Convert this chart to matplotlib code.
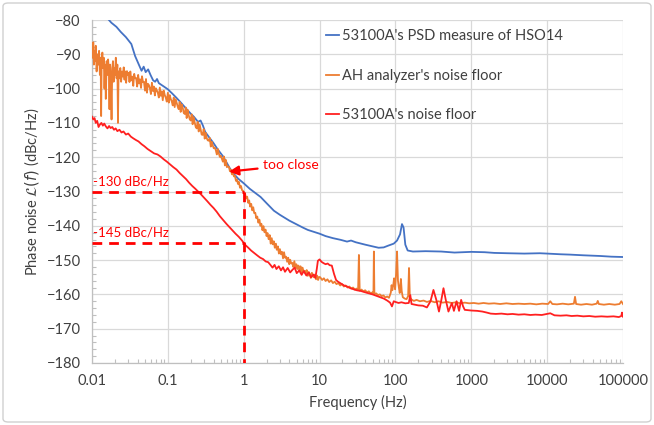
import matplotlib
matplotlib.use("Agg")
import matplotlib.pyplot as plt
from matplotlib.patches import FancyBboxPatch
from matplotlib.ticker import FixedLocator, FuncFormatter, NullFormatter

plt.rcParams['font.family'] = ['Lato', 'DejaVu Sans']

# ---------------- data ----------------
blue_f = [0.0150, 0.0180, 0.0210, 0.0240, 0.0280, 0.0330, 0.0370, 0.0420, 0.0450, 0.0480,
          0.0510, 0.0550, 0.0590, 0.0640, 0.0680, 0.0720, 0.0760, 0.0820, 0.0900, 0.1000,
          0.1150, 0.1300, 0.1500, 0.1750, 0.2000, 0.2200, 0.2500, 0.2700, 0.2900, 0.3100,
          0.3500, 0.4000, 0.4500, 0.5400, 0.6000, 0.6700, 0.7500, 0.8500, 1.0000, 1.2000,
          1.6700, 2.0000, 2.5000, 3.0000, 4.0000, 5.0000, 6.0000, 7.0000, 8.5000, 10.000,
          12.000, 15.000, 19.000, 23.000, 26.000, 30.000, 40.000, 50.000, 60.000, 70.000,
          80.000, 95.000, 105.00, 115.00, 122.00, 128.00, 135.00, 145.00, 170.00, 250.00,
          400.00, 600.00, 1000.0, 1500.0, 2000.0, 3000.0, 5000.0, 8000.0, 10000., 15000.,
          20000., 30000., 50000., 70000., 100000.]
blue_db = [-78.8, -80.8, -82.0, -83.5, -85.0, -87.0, -90.5, -93.3, -94.8, -93.6,
           -95.2, -94.4, -96.0, -97.6, -98.0, -97.2, -98.4, -98.9, -99.5, -100.2,
           -101.5, -102.7, -104.2, -105.9, -107.3, -108.2, -109.7, -109.3, -110.8, -112.6,
           -114.2, -115.9, -117.6, -119.9, -121.7, -123.6, -125.0, -126.3, -127.6, -129.2,
           -131.6, -133.4, -135.6, -136.8, -138.5, -139.6, -140.5, -141.2, -141.8, -142.3,
           -143.0, -143.6, -144.1, -144.6, -144.3, -144.8, -145.5, -146.0, -146.4, -146.3,
           -145.8, -145.2, -144.3, -142.5, -139.5, -140.5, -145.5, -147.2, -147.5, -147.4,
           -147.5, -147.8, -147.6, -147.7, -147.9, -148.0, -148.1, -148.0, -148.1, -148.3,
           -148.4, -148.6, -148.8, -149.0, -149.1]

orange_f = [0.0100, 0.0102, 0.0104, 0.0106, 0.0108, 0.0110, 0.0112, 0.0115, 0.0118, 0.0121,
            0.0124, 0.0127, 0.0130, 0.0132, 0.0134, 0.0137, 0.0140, 0.0143, 0.0146, 0.0149,
            0.0152, 0.0156, 0.0160, 0.0163, 0.0167, 0.0170, 0.0173, 0.0177, 0.0181, 0.0185,
            0.0189, 0.0193, 0.0197, 0.0201, 0.0206, 0.0211, 0.0216, 0.0220, 0.0224, 0.0230,
            0.0236, 0.0242, 0.0248,
            0.0255, 0.0262, 0.0268, 0.0275, 0.0282, 0.0289, 0.0296, 0.0304, 0.0312, 0.0320,
            0.0330, 0.0340, 0.0350, 0.0360, 0.0370, 0.0382, 0.0394, 0.0406, 0.0418, 0.0430,
            0.0443, 0.0456, 0.0470, 0.0484, 0.0500, 0.0515, 0.0530, 0.0546, 0.0563, 0.0580,
            0.0598, 0.0616, 0.0635, 0.0654, 0.0674, 0.0694, 0.0715, 0.0737, 0.0760, 0.0783,
            0.0807, 0.0832, 0.0857, 0.0883, 0.0910, 0.0938, 0.0967, 0.1000, 0.1030, 0.1060,
            0.1090, 0.1125, 0.1160, 0.1195, 0.1230, 0.1270, 0.1310, 0.1350, 0.1390, 0.1430,
            0.1475, 0.1520, 0.1570, 0.1620, 0.1670, 0.1720, 0.1770, 0.1825, 0.1880, 0.1940,
            0.2000, 0.2060, 0.2120, 0.2190, 0.2260, 0.2330, 0.2400, 0.2470, 0.2550, 0.2630,
            0.2710, 0.2790, 0.2880, 0.2970,
            0.306, 0.316, 0.326, 0.336, 0.346, 0.357, 0.368, 0.379, 0.391, 0.403,
            0.416, 0.429, 0.442, 0.456, 0.470, 0.484, 0.500, 0.515, 0.531, 0.548,
            0.565, 0.582, 0.600, 0.619, 0.638, 0.658, 0.678, 0.699, 0.721, 0.743,
            0.766, 0.790, 0.815, 0.840, 0.866, 0.893, 0.921, 0.950, 0.980, 1.010,
            1.040, 1.075, 1.110, 1.145, 1.180, 1.215, 1.255, 1.295, 1.335, 1.375,
            1.420, 1.465, 1.510, 1.560, 1.610, 1.660, 1.710, 1.765, 1.820, 1.880,
            1.940, 2.000, 2.060, 2.130, 2.200, 2.270, 2.340, 2.410, 2.490, 2.570,
            2.650, 2.730, 2.820, 2.910, 3.000, 3.100, 3.200, 3.300, 3.400, 3.510,
            3.620, 3.740, 3.860, 3.980, 4.100, 4.230, 4.370, 4.500, 4.650, 4.800,
            4.950, 5.100, 5.270, 5.440, 5.610, 5.790, 5.970, 6.160, 6.360, 6.560,
            6.770, 6.990, 7.210, 7.440, 7.680, 7.920, 8.170, 8.430, 8.700, 8.980,
            9.270, 9.560, 9.870,
            10.2, 10.8, 11.4, 12.0, 12.7, 13.4, 14.2, 15.0, 15.8, 16.7,
            17.7, 18.7, 19.8, 20.9, 22.1, 23.4, 24.7, 26.1, 27.6, 29.2,
            30.8, 32.2, 33.0, 33.8, 35.7, 37.8, 39.9, 42.2, 44.6, 47.1,
            49.8, 51.3, 52.0, 52.8, 55.7, 58.9, 62.3, 65.8, 69.6, 73.6,
            77.8, 82.2, 86.9, 89.0, 91.0, 94.0, 96.0, 99.0, 102.0, 105.0,
            108.0, 111.0, 114.0, 118.0, 121.0, 125.0, 132.0, 140.0, 147.0, 151.0,
            155.0, 163.0, 175.0, 190.0, 210.0, 235.0, 260.0, 290.0, 330.0, 370.0,
            420.0, 480.0, 550.0, 630.0, 720.0, 820.0, 940.0, 1080.0, 1250.0, 1450.0,
            1700.0, 2000.0, 2400.0, 2900.0, 3500.0, 4200.0, 5000.0, 6000.0, 7200.0, 8600.0,
            10300.0, 11000.0, 11700.0, 13500.0, 16000.0, 19000.0, 22500.0, 23300.0, 24100.0, 28000.0,
            33000.0, 39000.0, 45000.0, 46500.0, 48000.0, 56000.0, 66000.0, 78000.0, 90000.0, 95000.0,
            98000.0, 100000.0]
orange_db = [-88.0, -91.0, -86.5, -93.0, -89.0, -92.0, -87.5, -95.0, -90.0, -93.0,
             -89.0, -96.0, -91.0, -108.0, -92.0, -89.5, -94.0, -91.0, -100.0, -93.0,
             -103.0, -92.0, -96.0, -91.5, -95.0, -106.0, -93.0, -97.0, -109.0, -94.0,
             -92.0, -98.0, -94.0, -96.0, -91.0, -97.0, -93.0, -110.0, -95.0, -97.0,
             -94.0, -98.0, -95.0,
             -96.5, -93.8, -97.4, -95.0, -98.3, -94.9, -96.0, -95.4, -98.1, -95.0,
             -97.6, -96.5, -99.2, -95.7, -97.0, -96.9, -99.4, -96.0, -98.5, -97.3,
             -99.8, -96.4, -98.1, -98.0, -100.6, -97.2, -101.2, -98.6, -99.0, -99.9,
             -101.6, -98.3, -100.7, -99.4, -102.0, -99.9, -100.5, -101.2, -102.6, -99.7,
             -102.1, -100.8, -103.4, -100.6, -101.9, -102.6, -103.8, -101.2, -104.1, -101.9,
             -103.0, -103.7, -104.9, -102.6, -105.4, -103.1, -104.2, -105.3, -106.0, -103.9,
             -106.8, -104.6, -105.6, -107.1, -107.4, -105.5, -108.6, -106.2, -107.7, -108.9,
             -109.3, -107.5, -110.4, -108.3, -109.9, -111.2, -111.6, -109.7, -112.5, -110.5,
             -111.9, -113.4, -113.5, -111.8,
             -114.6, -112.9, -114.5, -115.1, -115.2, -114.4, -116.9, -115.5, -116.6, -117.4,
             -117.2, -118.0, -119.2, -117.6, -118.9, -119.9, -119.6, -120.4, -121.3, -119.8,
             -122.4, -120.8, -122.9, -122.7, -122.8, -124.1, -123.6, -125.0, -124.6, -125.6,
             -125.4, -126.9, -126.5, -127.8, -127.2, -128.9, -128.4, -129.6, -129.8, -130.4,
             -130.6, -132.0, -131.5, -133.3, -132.6, -134.4, -133.6, -135.5, -134.6, -136.3,
             -136.2, -137.8, -137.3, -139.1, -138.2, -140.0, -139.4, -141.3, -140.1, -141.9,
             -141.1, -143.0, -142.1, -143.9, -142.7, -145.2, -143.6, -145.4, -144.5, -146.4,
             -145.2, -147.0, -146.0, -148.1, -146.8, -148.3, -147.6, -149.5, -147.7, -149.3,
             -149.0, -150.5, -149.3, -151.2, -149.9, -151.0, -150.8, -152.0, -150.3, -152.1,
             -151.2, -152.6, -151.6, -153.2, -151.8, -153.7, -152.2, -153.4, -153.1, -154.0,
             -152.9, -154.6, -153.5, -154.1, -155.2, -153.7, -154.8, -155.0, -154.2, -155.6,
             -154.5, -155.8, -154.9,
             -155.0, -155.8, -155.3, -156.1, -155.6, -156.4, -155.9, -156.7, -156.3, -157.0,
             -156.7, -157.4, -157.0, -157.7, -157.4, -158.0, -157.7, -158.3, -158.0, -158.6,
             -158.3, -158.8, -148.5, -158.9, -158.6, -159.1, -158.8, -159.4, -159.1, -159.7,
             -159.4, -159.8, -147.5, -159.9, -159.7, -160.2, -160.0, -160.5, -160.3, -160.9,
             -160.6, -161.0, -159.5, -157.3, -158.8, -157.0, -155.3, -158.5, -154.0, -147.5,
             -156.0, -158.0, -159.6, -155.5, -159.0, -160.8, -161.2, -161.4, -160.5, -152.3,
             -161.0, -161.5, -161.9, -161.6, -162.0, -161.8, -162.2, -161.9, -162.3, -162.0,
             -162.4, -162.2, -162.5, -162.3, -162.6, -162.4, -162.6, -162.5, -162.7, -162.5,
             -162.7, -162.6, -162.8, -162.6, -162.8, -162.7, -162.8, -162.7, -162.9, -162.7,
             -162.8, -162.0, -162.8, -162.9, -162.7, -162.9, -162.7, -160.7, -162.8, -163.0,
             -162.8, -163.0, -162.7, -161.9, -162.8, -163.0, -162.8, -163.0, -162.8, -162.0,
             -162.5, -162.8]

red_f = [0.0100, 0.0104, 0.0108, 0.0112, 0.0117, 0.0122, 0.0127, 0.0133, 0.0139, 0.0145,
         0.0152, 0.0160, 0.0168, 0.0176, 0.0185, 0.0195, 0.0205, 0.0216, 0.0230, 0.0245,
         0.0260, 0.0280, 0.0300, 0.0325, 0.0350, 0.0380, 0.0410, 0.0450, 0.0490, 0.0540,
         0.0600, 0.0660, 0.0730, 0.0800, 0.0880, 0.0970, 0.1070, 0.1180, 0.1300, 0.1430,
         0.1580, 0.1740, 0.1900, 0.2100, 0.2300, 0.2500, 0.2750, 0.3000, 0.3300, 0.3650,
         0.4000, 0.4400, 0.4850, 0.5350, 0.5900, 0.6500, 0.7100, 0.7800, 0.8600, 0.9500,
         1.0000, 1.0500, 1.1500, 1.2500, 1.3500, 1.5000, 1.6500, 1.8000, 1.9500, 2.1000,
         2.2500, 2.4000, 2.5500, 2.7000, 2.9000, 3.1000, 3.3000, 3.5000, 3.8000, 4.1000,
         4.4000, 4.7000, 5.0000, 5.4000, 5.8000, 6.2000, 6.7000, 7.2000, 7.7000, 8.3000,
         8.8000, 9.2000, 9.5000, 10.000, 10.600, 11.300, 12.000, 12.800, 13.600, 14.500,
         15.500, 16.500, 17.500, 19.000, 21.000, 23.000, 25.000, 28.000, 31.000, 35.000,
         40.000, 45.000, 50.000, 56.000, 63.000, 70.000, 78.000, 85.000, 90.000, 95.000,
         100.00, 110.00, 120.00, 135.00, 150.00, 157.00, 163.00, 180.00, 200.00, 230.00,
         260.00, 290.00, 317.00, 345.00, 375.00, 400.00, 430.00, 460.00, 500.00, 555.00,
         590.00, 640.00, 690.00, 735.00, 780.00, 820.00, 900.00, 1000.0, 1200.0, 1400.0,
         1600.0, 1800.0, 2100.0, 2500.0, 3000.0, 3500.0, 4200.0, 5000.0, 6000.0, 7000.0,
         8500.0, 10000., 11000., 12500., 15000., 18000., 21000., 25000., 30000., 36000.,
         43000., 52000., 62000., 75000., 88000., 95000., 97000., 100000.]
red_db = [-108.2, -109.0, -108.6, -110.0, -109.4, -111.2, -110.5, -110.0, -110.8, -110.2,
          -111.0, -111.6, -110.9, -111.5, -111.2, -112.0, -111.6, -112.4, -112.0, -112.8,
          -112.5, -113.4, -113.1, -114.0, -114.5, -115.0, -115.4, -116.2, -116.8, -117.6,
          -118.3, -118.9, -119.2, -119.8, -120.6, -121.3, -122.1, -122.9, -123.6, -124.6,
          -125.5, -126.4, -127.4, -128.4, -129.2, -130.0, -130.9, -131.8, -132.8, -133.9,
          -134.8, -135.9, -137.2, -138.3, -139.4, -140.4, -141.3, -142.3, -143.2, -144.3,
          -145.0, -145.6, -146.4, -147.2, -147.8, -148.6, -149.3, -149.7, -150.4, -150.6,
          -151.4, -152.2, -151.4, -152.6, -151.8, -153.0, -152.1, -153.4, -152.3, -153.6,
          -152.8, -152.2, -153.8, -153.0, -154.3, -153.2, -154.5, -153.6, -155.0, -154.2,
          -155.2, -152.5, -150.2, -149.8, -150.5, -150.9, -151.2, -151.0, -151.5, -151.6,
          -154.0, -155.8, -156.3, -156.8, -157.4, -157.7, -158.1, -158.5, -158.8, -159.0,
          -159.4, -159.7, -160.0, -160.4, -160.8, -161.2, -161.8, -162.4, -163.5, -162.0,
          -162.2, -162.5, -162.3, -162.6, -162.5, -160.2, -162.8, -163.0, -163.2, -163.3,
          -163.8, -162.0, -158.7, -161.5, -165.0, -162.0, -158.2, -161.5, -165.0, -162.5,
          -164.8, -162.0, -164.8, -161.6, -163.5, -164.5, -164.6, -164.7, -164.8, -165.0,
          -165.3, -165.6, -165.7, -165.6, -165.8, -165.7, -165.9, -165.8, -166.0, -165.9,
          -166.0, -165.7, -165.5, -166.1, -166.2, -166.1, -166.3, -166.2, -166.4, -166.3,
          -166.5, -166.4, -166.5, -166.4, -166.6, -166.3, -165.3, -166.5]

series_labels = ["53100A's PSD measure of HSO14", "AH analyzer's noise floor", "53100A's noise floor"]
x_ticks = [0.01, 0.1, 1, 10, 100, 1000, 10000, 100000]
x_tick_labels = ["0.01", "0.1", "1", "10", "100", "1000", "10000", "100000"]
y_ticks = [-180, -170, -160, -150, -140, -130, -120, -110, -100, -90, -80]

mark_freq = 1.0
mark_levels = [-130, -145]
mark_labels = ["-130 dBc/Hz", "-145 dBc/Hz"]

# ---------------- figure ----------------
W, H = 654, 425
fig = plt.figure(figsize=(W / 100, H / 100), dpi=100)
fig.patches.append(FancyBboxPatch((3 / W, 3 / H), 1 - 6 / W, 1 - 6 / H,
                                  boxstyle="round,pad=0,rounding_size=0.008",
                                  transform=fig.transFigure, facecolor='white',
                                  edgecolor='#D0D0D0', linewidth=1.0, zorder=-10))
ax = fig.add_axes([92 / W, 1 - 363 / H, (623 - 92) / W, (363 - 20) / H])
ax.set_facecolor('none')

c_blue = '#4472C4'
c_orange = '#ED7D31'
c_red = '#FF2020'

ax.plot(blue_f, blue_db, color=c_blue, lw=1.3, label=series_labels[0], zorder=3)
ax.plot(orange_f, orange_db, color=c_orange, lw=1.3, label=series_labels[1], zorder=4)
ax.plot(red_f, red_db, color=c_red, lw=1.3, label=series_labels[2], zorder=5)

ax.set_xscale('log')
ax.set_xlim(x_ticks[0], x_ticks[-1])
ax.set_ylim(y_ticks[0], y_ticks[-1])

ax.xaxis.set_major_locator(FixedLocator(x_ticks))
ax.xaxis.set_major_formatter(FuncFormatter(lambda v, p: x_tick_labels[x_ticks.index(v)] if v in x_ticks else ""))
minor_x = [m * d for d in x_ticks[:-1] for m in range(2, 10)]
ax.xaxis.set_minor_locator(FixedLocator(minor_x))
ax.xaxis.set_minor_formatter(NullFormatter())
ax.yaxis.set_major_locator(FixedLocator(y_ticks))
ax.yaxis.set_minor_locator(FixedLocator([v for v in range(-180, -79, 2) if v % 10]))

ax.grid(True, which='major', color='#D9D9D9', lw=0.9, zorder=0)
ax.tick_params(which='major', length=0, labelsize=10.5, colors='#404040', pad=8)
ax.tick_params(which='minor', direction='in', length=3, color='#BFBFBF', width=0.8)
for s in ['top', 'right']:
    ax.spines[s].set_visible(False)
for s in ['left', 'bottom']:
    ax.spines[s].set_color('#BFBFBF')
    ax.spines[s].set_linewidth(0.9)

ax.set_xlabel('Frequency (Hz)', fontsize=10.5, color='#404040', labelpad=5)
ax.set_ylabel(r'Phase noise $\mathcal{L}(f)$ (dBc/Hz)', fontsize=10.5, color='#404040', labelpad=4)

# annotation lines
dash = dict(color='#FF0000', lw=2.0, linestyle=(0, (3.5, 2.5)), zorder=6)
for lvl, txt in zip(mark_levels, mark_labels):
    ax.plot([x_ticks[0], mark_freq], [lvl, lvl], **dash)
    ax.text(0.0103, lvl + 1.2, txt, color='#FF0000', fontsize=9.5, ha='left', va='bottom', zorder=7)
ax.plot([mark_freq, mark_freq], [mark_levels[0], y_ticks[0]], **dash)

ax.annotate('too close', xy=(0.64, -124.2), xytext=(1.8, -122.3),
            color='#FF0000', fontsize=10, va='center', ha='left',
            arrowprops=dict(arrowstyle='-|>', color='#FF0000', lw=1.6,
                            mutation_scale=14, shrinkA=2, shrinkB=0), zorder=8)

leg = ax.legend(loc='upper left', bbox_to_anchor=(0.43, 0.99), frameon=False,
                handlelength=0.9, handletextpad=0.2, labelspacing=1.75,
                fontsize=10.5, borderaxespad=0)
for t in leg.get_texts():
    t.set_color('#404040')

fig.savefig('out.png', dpi=100)
